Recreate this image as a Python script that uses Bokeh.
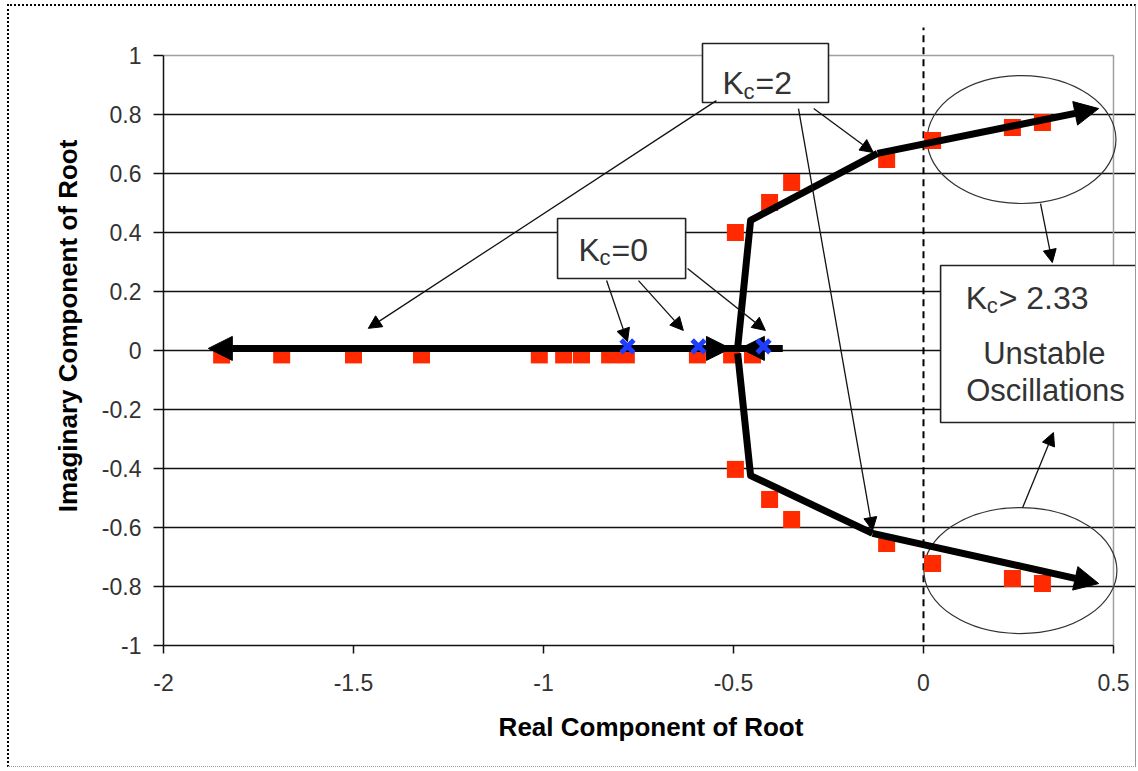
from bokeh.plotting import figure
from bokeh.models import FixedTicker, Arrow, NormalHead, Range1d
from bokeh.core.properties import value
from bokeh.embed import file_html
from bokeh.resources import INLINE

# ---------------- data ----------------
# closed-loop roots on the real axis (red squares)
real_roots_re = [-1.847, -1.689, -1.5, -1.321, -1.011, -0.947, -0.900, -0.826, -0.782, -0.595, -0.505, -0.45]
real_roots_im = [-0.015] * len(real_roots_re)
# complex-conjugate closed-loop roots (red squares)
cplx_roots_re = [-0.495, -0.405, -0.347, -0.097, 0.024, 0.234, 0.313]
cplx_roots_im_upper = [0.40, 0.502, 0.569, 0.647, 0.712, 0.756, 0.773]
cplx_roots_im_lower = [-0.403, -0.505, -0.573, -0.654, -0.722, -0.773, -0.79]
# open-loop poles (Kc = 0, blue x)
pole_re = [-0.779, -0.592, -0.421]
pole_im = [0.014, 0.014, 0.014]
# sketched root-locus branches
real_branch_x = [-0.371, -1.882]
real_branch_y = [0.007, 0.007]
approach_from_left = [-0.9, -0.508]
approach_from_right = [-0.371, -0.482]
upper_branch_x = [-0.489, -0.455, -0.121, 0.461]
upper_branch_y = [0.010, 0.441, 0.668, 0.820]
lower_branch_x = [-0.489, -0.455, -0.134, 0.461]
lower_branch_y = [-0.010, -0.424, -0.620, -0.790]
# stability boundary
boundary_x = [0, 0]
boundary_y = [-1.07, 1.095]

x_ticks = [-2, -1.5, -1, -0.5, 0, 0.5]
x_tick_labels = ["-2", "-1.5", "-1", "-0.5", "0", "0.5"]
y_ticks = [-1, -0.8, -0.6, -0.4, -0.2, 0, 0.2, 0.4, 0.6, 0.8, 1]
y_tick_labels = ["-1", "-0.8", "-0.6", "-0.4", "-0.2", "0", "0.2", "0.4", "0.6", "0.8", "1"]

# annotation layout (data coordinates)
ellipse_x = [0.258, 0.255]
ellipse_y = [0.715, -0.746]
ellipse_w = [0.497, 0.508]
ellipse_h = [0.434, 0.427]

box_left = [-0.5816, -0.963, 0.045]
box_right = [-0.25, -0.626, 0.62]
box_top = [1.0407, 0.4475, 0.288]
box_bottom = [0.8407, 0.244, -0.244]

thin_arrows = [
    (-0.545, 0.847, -1.461, 0.075),
    (-0.329, 0.820, -0.134, -0.610),
    (-0.289, 0.820, -0.132, 0.671),
    (-0.834, 0.237, -0.779, 0.030),
    (-0.750, 0.237, -0.632, 0.068),
    (-0.621, 0.278, -0.416, 0.068),
    (0.308, 0.498, 0.339, 0.298),
    (0.261, -0.532, 0.342, -0.278),
]

FONT = "Liberation Sans"

p = figure(width=1129, height=763,
           x_range=Range1d(-2, 0.5658), y_range=Range1d(-1, 1.166),
           output_backend="svg", toolbar_location=None,
           min_border_left=154, min_border_right=0, min_border_top=0,
           min_border_bottom=124)
p.outline_line_color = None
p.background_fill_color = "white"
p.border_fill_color = "white"
p.styles = {"margin-left": "7px", "margin-top": "4px",
            "border-top": "2px dotted #000", "border-left": "2px dotted #000",
            "border-right": "1px solid #999", "border-bottom": "1px dotted #999"}

p.xgrid.visible = False
p.ygrid.ticker = FixedTicker(ticks=y_ticks[1:-1])
p.ygrid.grid_line_color = "#111"
p.ygrid.grid_line_width = 1.4
p.ygrid.bounds = (-2, 0.5)

for ax in (p.xaxis, p.yaxis):
    ax.minor_tick_line_color = None
    ax.major_tick_in = 0
    ax.axis_line_color = "#111"
    ax.axis_line_width = 1.5
    ax.major_tick_line_width = 1.5
    ax.major_tick_line_color = "#111"
    ax.major_label_text_color = "#333"
    ax.major_label_text_font = FONT
    ax.axis_label_text_font = FONT
    ax.axis_label_text_font_style = "bold"
    ax.axis_label_text_font_size = "26px"
    ax.axis_label_text_color = "#000"

p.yaxis.ticker = FixedTicker(ticks=y_ticks)
p.yaxis.major_label_overrides = dict(zip(y_ticks, y_tick_labels))
p.yaxis.bounds = (-1, 1)
p.yaxis.major_tick_out = 10
p.yaxis.major_label_text_font_size = "23px"
p.yaxis.major_label_standoff = 12
p.yaxis.axis_label = "Imaginary Component of Root"
p.yaxis.axis_label_standoff = 16

p.xaxis.ticker = FixedTicker(ticks=x_ticks)
p.xaxis.major_label_overrides = dict(zip(x_ticks, x_tick_labels))
p.xaxis.bounds = (-2, 0.5)
p.xaxis.major_tick_out = 8
p.xaxis.major_label_text_font_size = "23px"
p.xaxis.major_label_standoff = 20
p.xaxis.axis_label = "Real Component of Root"
p.xaxis.axis_label_standoff = 18

# plot-area border (top / right)
p.line([x_ticks[0], x_ticks[-1], x_ticks[-1]], [y_ticks[-1], y_ticks[-1], y_ticks[0]],
       line_color="#a0a0a0", line_width=1.5)
# stability boundary
p.line(boundary_x, boundary_y, line_color="black", line_width=2, line_dash="7 5")
# ellipses
p.ellipse(x=ellipse_x, y=ellipse_y, width=ellipse_w, height=ellipse_h,
          fill_alpha=0, line_color="#333", line_width=1.2)
# text boxes
p.quad(left=box_left, right=box_right, top=box_top, bottom=box_bottom,
       fill_color="white", line_color="#222", line_width=1.6)

# red squares
p.scatter(real_roots_re, real_roots_im, marker="square", size=17, color="#ff2a00", line_color=None)
p.scatter(cplx_roots_re, cplx_roots_im_upper, marker="square", size=17, color="#ff2a00", line_color=None)
p.scatter(cplx_roots_re, cplx_roots_im_lower, marker="square", size=17, color="#ff2a00", line_color=None)

# thick locus lines
p.line(upper_branch_x[:-1], upper_branch_y[:-1], line_color="black", line_width=7, line_join="round")
p.line(lower_branch_x[:-1], lower_branch_y[:-1], line_color="black", line_width=7, line_join="round")

def thick_arrow(x0, y0, x1, y1):
    p.add_layout(Arrow(end=NormalHead(size=24, fill_color="black", line_color="black", line_width=1),
                       x_start=x0, y_start=y0, x_end=x1, y_end=y1,
                       line_color="black", line_width=7))

thick_arrow(real_branch_x[0], real_branch_y[0], real_branch_x[1], real_branch_y[1])
thick_arrow(approach_from_left[0], real_branch_y[0], approach_from_left[1], real_branch_y[0])
thick_arrow(approach_from_right[0], real_branch_y[0], approach_from_right[1], real_branch_y[0])
thick_arrow(upper_branch_x[-2], upper_branch_y[-2], upper_branch_x[-1], upper_branch_y[-1])
thick_arrow(lower_branch_x[-2], lower_branch_y[-2], lower_branch_x[-1], lower_branch_y[-1])

for (x0, y0, x1, y1) in thin_arrows:
    p.add_layout(Arrow(end=NormalHead(size=13, fill_color="black", line_color="black", line_width=1),
                       x_start=x0, y_start=y0, x_end=x1, y_end=y1,
                       line_color="#111", line_width=1.3))

# open-loop poles
poles = p.scatter(pole_re, pole_im, marker="x", size=18, line_color="#1f3dff", line_width=5)
poles.level = "overlay"

# box texts
main_x = [-0.529, -0.908, 0.111]
main_y = [0.906, 0.342, 0.178]
p.text(x=main_x, y=main_y, text=["K", "K", "K"], text_font=value(FONT),
       text_font_size="32px", text_color="#333", text_baseline="alphabetic")
p.text(x=main_x, y=main_y, text=["c", "c", "c"], x_offset=21, y_offset=8, text_font=value(FONT),
       text_font_size="22px", text_color="#333", text_baseline="alphabetic")
p.text(x=main_x, y=main_y, text=["=2", "=0", "> 2.33"], x_offset=33, text_font=value(FONT),
       text_font_size="32px", text_color="#333", text_baseline="alphabetic")
p.text(x=[0.318, 0.321], y=[-0.009, -0.134], text=["Unstable", "Oscillations"],
       text_font=value(FONT), text_font_size="31px", text_color="#333",
       text_align="center", text_baseline="alphabetic")

open("out.html", "w").write(file_html(p, INLINE))
